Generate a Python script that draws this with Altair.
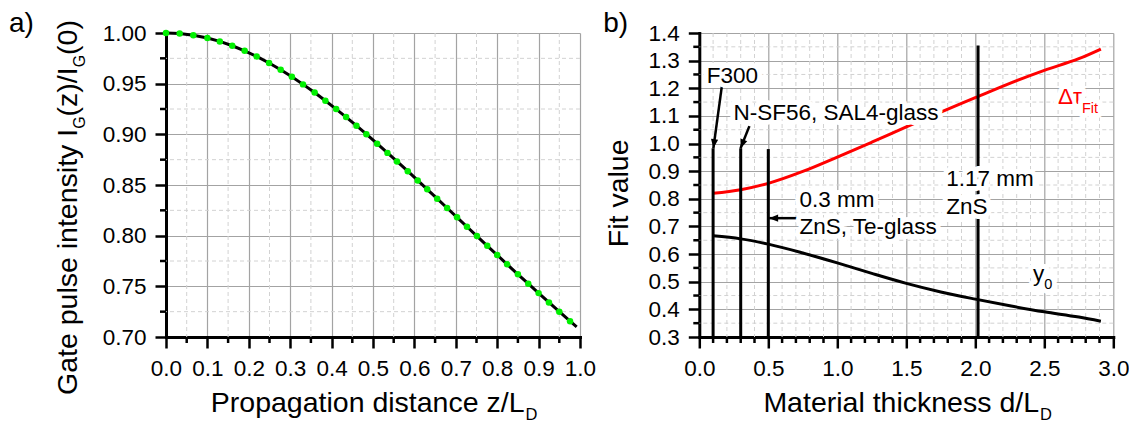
import math
import altair as alt
import pandas as pd

FONT = "Liberation Sans"
W_PLOT, H_PLOT = 414, 304

# ---------------- panel a) ----------------
z_dots = [0.000, 0.033, 0.066, 0.100, 0.130, 0.160, 0.190, 0.219, 0.249, 0.277,
          0.304, 0.331, 0.359, 0.385, 0.411, 0.435, 0.460, 0.484, 0.510, 0.535,
          0.558, 0.584, 0.608, 0.631, 0.655, 0.679, 0.703, 0.727, 0.751, 0.776,
          0.800, 0.824, 0.850, 0.875, 0.900, 0.925, 0.950, 0.976]
i_dots = [1.0000, 0.9995, 0.9978, 0.9950, 0.9917, 0.9874, 0.9824, 0.9769, 0.9704, 0.9637,
          0.9568, 0.9493, 0.9412, 0.9332, 0.9249, 0.9170, 0.9085, 0.9001, 0.8908, 0.8817,
          0.8733, 0.8636, 0.8545, 0.8457, 0.8365, 0.8273, 0.8181, 0.8088, 0.7996, 0.7900,
          0.7809, 0.7717, 0.7619, 0.7526, 0.7433, 0.7341, 0.7250, 0.7156]
z_line = z_dots + [0.992]
i_line = i_dots + [0.7100]

xa_ticks = [0.0, 0.1, 0.2, 0.3, 0.4, 0.5, 0.6, 0.7, 0.8, 0.9, 1.0]
ya_ticks = [0.70, 0.75, 0.80, 0.85, 0.90, 0.95, 1.00]
xa_minor = [0.05, 0.15, 0.25, 0.35, 0.45, 0.55, 0.65, 0.75, 0.85, 0.95]
ya_minor = [0.725, 0.775, 0.825, 0.875, 0.925, 0.975]

# ---------------- panel b) ----------------
d_fit = [0.10, 0.30, 0.50, 0.75, 1.00, 1.25, 1.50, 1.75, 2.00, 2.25, 2.50, 2.75, 2.91]
dtau_fit = [0.820, 0.833, 0.856, 0.899, 0.951, 1.005, 1.060, 1.114, 1.166, 1.218, 1.265, 1.307, 1.342]
y0_fit = [0.666, 0.655, 0.636, 0.604, 0.568, 0.530, 0.494, 0.463, 0.437, 0.413, 0.391, 0.372, 0.357]

marker_d = [0.1, 0.3, 0.5, 2.02]
marker_top = [0.983, 0.983, 0.980, 1.355]

arrow_x1 = [0.163, 0.363, 0.718]
arrow_y1 = [1.206, 1.063, 0.730]
arrow_x2 = [0.102, 0.299, 0.506]
arrow_y2 = [0.983, 0.983, 0.730]

label_text = ["F300", "N-SF56, SAL4-glass", "0.3 mm", "ZnS, Te-glass", "1.17 mm", "ZnS"]
label_d = [0.054, 0.247, 0.726, 0.726, 1.790, 1.790]
label_v = [1.220, 1.085, 0.771, 0.673, 0.846, 0.745]

xb_ticks = [0.0, 0.5, 1.0, 1.5, 2.0, 2.5, 3.0]
yb_ticks = [0.3, 0.4, 0.5, 0.6, 0.7, 0.8, 0.9, 1.0, 1.1, 1.2, 1.3, 1.4]
xb_minor = [0.1, 0.2, 0.3, 0.4, 0.6, 0.7, 0.8, 0.9, 1.1, 1.2, 1.3, 1.4, 1.6, 1.7, 1.8, 1.9,
            2.1, 2.2, 2.3, 2.4, 2.6, 2.7, 2.8, 2.9]
yb_minor = [0.35, 0.45, 0.55, 0.65, 0.75, 0.85, 0.95, 1.05, 1.15, 1.25, 1.35]

MINOR_GRID = dict(color="#d2d2d2", strokeWidth=1, strokeDash=[4, 3])
MINOR_TICK = dict(color="black", strokeWidth=2.5)

# Arial / Liberation Sans advance widths (1/1000 em) for composing titles
ADV = {' ': 278, '(': 333, ')': 333, '/': 278, '0': 556, 'G': 778, 'I': 278, 'a': 556,
       'e': 556, 't': 278, 'p': 556, 'u': 556, 'l': 222, 's': 500, 'i': 222, 'n': 556,
       'y': 500, 'z': 500}


def tw(s, size):
    return sum(ADV[c] for c in s) / 1000.0 * size


def ptext(s, x, y, size, angle=0, align="left", color="black"):
    return alt.Chart(pd.DataFrame({"t": [s]})).mark_text(
        align=align, baseline="alphabetic", angle=angle, fontSize=size,
        font=FONT, color=color
    ).encode(x=alt.value(x), y=alt.value(y), text="t:N")


def panel_layers(xs, ys, axx, axy, xminor, yminor):
    X = lambda f: alt.X(f, type="quantitative", scale=xs, axis=axx, title=None)
    Y = lambda f: alt.Y(f, type="quantitative", scale=ys, axis=axy, title=None)
    gx = alt.Chart(pd.DataFrame({"v": xminor})).mark_rule(**MINOR_GRID).encode(x=X("v"))
    gy = alt.Chart(pd.DataFrame({"v": yminor})).mark_rule(**MINOR_GRID).encode(y=Y("v"))
    tx = alt.Chart(pd.DataFrame({"v": xminor})).mark_rule(**MINOR_TICK).encode(
        x=X("v"), y=alt.value(H_PLOT), y2=alt.value(H_PLOT + 6))
    ty = alt.Chart(pd.DataFrame({"v": yminor})).mark_rule(**MINOR_TICK).encode(
        y=Y("v"), x=alt.value(-6), x2=alt.value(0))
    return X, Y, [gx, gy, tx, ty]


# ---------- left panel ----------
xs_a = alt.Scale(domain=[0, 1], nice=False, zero=False)
ys_a = alt.Scale(domain=[0.7, 1.0], nice=False, zero=False)
ax_xa = alt.Axis(values=xa_ticks, format=".1f", grid=True)
ax_ya = alt.Axis(values=ya_ticks, format=".2f", grid=True)
XA, YA, base_a = panel_layers(xs_a, ys_a, ax_xa, ax_ya, xa_minor, ya_minor)

line_a = alt.Chart(pd.DataFrame({"z": z_line, "i": i_line})).mark_line(
    color="black", strokeWidth=3).encode(x=XA("z"), y=YA("i"))
dots_a = alt.Chart(pd.DataFrame({"z": z_dots, "i": i_dots})).mark_circle(
    color="#00f000", size=42, opacity=1).encode(x=XA("z"), y=YA("i"))

# invisible layout anchor (fixes the top-left corner of the whole figure)
anchor = alt.Chart(pd.DataFrame({"t": [0]})).mark_rule(
    color="white", opacity=0, strokeWidth=1
).encode(x=alt.value(-157.5), x2=alt.value(-157.5), y=alt.value(-24.5), y2=alt.value(-20))

texts_a = [
    anchor,
    ptext("a)", -157, -1, 28),
    ptext("Propagation distance z/L", 358.5, 378.7, 28.5, align="right"),
    ptext("D", 359.5, 387, 16.5),
]
# rotated y title with subscripts
pieces = [("Gate pulse intensity I", 28.5, 0), ("G", 16, 8), ("(z)/I", 28.5, 0),
          ("G", 16, 8), ("(0)", 28.5, 0)]
cur = 362.0
for s, sz, sh in pieces:
    texts_a.append(ptext(s, -89 + sh, cur, sz, angle=270))
    cur -= tw(s, sz)

left = alt.layer(*base_a, line_a, dots_a, *texts_a).properties(width=W_PLOT, height=H_PLOT)

# ---------- right panel ----------
xs_b = alt.Scale(domain=[0, 3], nice=False, zero=False)
ys_b = alt.Scale(domain=[0.3, 1.4], nice=False, zero=False)
ax_xb = alt.Axis(values=xb_ticks, format=".1f", grid=True)
ax_yb = alt.Axis(values=yb_ticks, format=".1f", grid=True)
XB, YB, base_b = panel_layers(xs_b, ys_b, ax_xb, ax_yb, xb_minor, yb_minor)

fit_df = pd.DataFrame({"d": d_fit, "tau": dtau_fit, "y0": y0_fit})
red = alt.Chart(fit_df).mark_line(color="#ff0000", strokeWidth=3, interpolate="monotone").encode(
    x=XB("d"), y=YB("tau"))
blk = alt.Chart(fit_df).mark_line(color="black", strokeWidth=3, interpolate="monotone").encode(
    x=XB("d"), y=YB("y0"))

mk_df = pd.DataFrame({"d": marker_d, "top": marker_top, "bot": [0.3] * len(marker_d)})
markers = alt.Chart(mk_df).mark_rule(color="black", strokeWidth=3).encode(
    x=XB("d"), y=YB("bot"), y2="top:Q")

PXX = W_PLOT / 3.0
PXY = H_PLOT / 1.1
angs = []
for x1, y1, x2, y2 in zip(arrow_x1, arrow_y1, arrow_x2, arrow_y2):
    dx = (x2 - x1) * PXX
    dy = -(y2 - y1) * PXY
    angs.append(math.degrees(math.atan2(-dx, dy)) % 360)
ar_df = pd.DataFrame({"x1": arrow_x1, "y1": arrow_y1, "x2": arrow_x2, "y2": arrow_y2, "ang": angs})
ar_lines = alt.Chart(ar_df).mark_rule(color="black", strokeWidth=2.5).encode(
    x=XB("x1"), y=YB("y1"), x2="x2:Q", y2="y2:Q")
ar_heads = alt.Chart(ar_df).mark_point(
    shape="M0,0L0.8,-2L-0.8,-2Z", size=81, filled=True, color="black", opacity=1, strokeWidth=0
).encode(x=XB("x2"), y=YB("y2"), angle=alt.Angle("ang:Q", scale=None))


def dtext(texts, xs, vs, size, color="black", align="left"):
    df = pd.DataFrame({"t": texts, "d": xs, "v": vs})
    halo = alt.Chart(df).mark_text(
        align=align, baseline="alphabetic", fontSize=size, font=FONT, color="white",
        stroke="white", strokeWidth=10, strokeJoin="round"
    ).encode(x=XB("d"), y=YB("v"), text="t:N")
    txt = alt.Chart(df).mark_text(
        align=align, baseline="alphabetic", fontSize=size, font=FONT, color=color
    ).encode(x=XB("d"), y=YB("v"), text="t:N")
    return [halo, txt]


ann = []
ann += dtext(label_text, label_d, label_v, 22.5)
ann += dtext(["Δτ"], [2.773], [1.142], 22.5, color="#ff0000", align="right")
ann += dtext(["Fit"], [2.773], [1.112], 14.5, color="#ff0000")
ann += dtext(["y"], [2.500], [0.504], 22.5, align="right")
ann += dtext(["0"], [2.500], [0.4725], 14.5)

texts_b = [
    ptext("b)", -96, -1, 28),
    ptext("Material thickness d/L", 339.7, 378.7, 28.5, align="right"),
    ptext("D", 340.7, 387, 16.5),
    ptext("Fit value", -71.3, 160.3, 28.5, angle=270, align="center"),
]

right = alt.layer(*base_b, red, blk, markers, ar_lines, ar_heads, *ann, *texts_b).properties(
    width=W_PLOT, height=H_PLOT)

chart = alt.hconcat(left, right, spacing=119.3, bounds="flush").properties(
    padding=0
).configure_view(stroke=None).configure_axis(
    domainColor="black", domainWidth=3, domainCap="square",
    tickColor="black", tickWidth=2.5, tickSize=11,
    labelFont=FONT, labelFontSize=22.5, labelColor="black", labelPadding=9,
    gridColor="#a3a3a3", gridWidth=1.2, labelFlush=False, labelOverlap=False
)

chart.save("out.html", embed_options={"renderer": "svg", "actions": False})
